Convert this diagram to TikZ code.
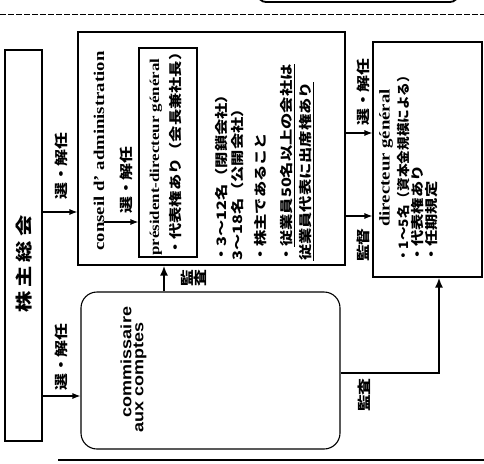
\documentclass[tikz,border=0pt]{standalone}
\usepackage{fontspec}
\setmainfont{Liberation Serif}
\newfontfamily\serifwide{Liberation Serif}[FakeStretch=1.25]
\newfontfamily\sanswide{Liberation Sans}[FakeStretch=1.2]
\newfontfamily\jp{Noto Sans CJK JP}[FakeStretch=1.25]
\newfontfamily\jpn{Noto Sans CJK JP}[FakeStretch=1.05]
\usetikzlibrary{arrows.meta}
\begin{document}
\begin{tikzpicture}[x=1pt,y=-1pt,
  box/.style={draw, line width=1.1pt, inner sep=0pt},
  arr/.style={-{Latex[length=8pt,width=6pt]}, line width=1.1pt},
  tarr/.style={-{Latex[length=10pt,width=8pt]}, line width=2.2pt},
  lab/.style={rotate=90, inner sep=0pt, font=\jp\bfseries\fontsize{13.5}{13.5}\selectfont},
  jline/.style={rotate=90, anchor=west, inner sep=0pt, font=\jp\bfseries\fontsize{13}{13}\selectfont},
  sertitle/.style={rotate=90, inner sep=0pt, font=\serifwide\bfseries\fontsize{15}{15}\selectfont},
  santitle/.style={rotate=90, inner sep=0pt, font=\sanswide\bfseries\fontsize{15}{15}\selectfont},
]
\clip (0,0) rectangle (484,463);
\fill[white] (0,0) rectangle (484,463);
% frame remnants
\draw[line width=1pt, dash pattern=on 6pt off 2pt] (0,14) -- (484,14);
\draw[line width=1.8pt, rounded corners=8pt] (258,-20) -- (258,2) -- (458,2) -- (458,-20);
\draw[line width=1.2pt] (58,460) -- (484,460);
\draw[line width=2.4pt] (330,460) -- (484,460);
% shareholders
\node[box, minimum width=37pt, minimum height=391pt] (sh) at (23.5,245.5) {};
\node[rotate=90, inner sep=0pt, font=\jp\bfseries\fontsize{17}{17}\selectfont] (shtext) at (23.5,264) {株\hspace{4pt}主\hspace{4pt}総\hspace{4pt}会};
% conseil
\node[box, minimum width=267pt, minimum height=233pt] (ca) at (211.5,148.5) {};
\node[sertitle] (catitle) at (99,151) {conseil d’ administration};
\node[box, minimum width=58pt, minimum height=209pt] (pdg) at (168,152.5) {};
\node[jline, font=\serifwide\bfseries\fontsize{13.5}{13.5}\selectfont] (pdg1) at (156,256) {président-directeur général};
\node[jline] (pdg2) at (176,256) {・代表権あり（会長兼社長）};
\node[jline] (l1) at (222,263) {・3～12名（閉鎖会社）};
\node[jline] (l2) at (238,261) {3～18名（公開会社）};
\node[jline] (l3) at (261,263) {・株主であること};
\node[jline] (l4) at (288,263) {・\underline{従業員50名以上の会社は}};
\node[jline] (l5) at (307,261) {\underline{従業員代表に出席権あり}};
% directeur general
\node[box, minimum width=109pt, minimum height=235pt] (dg) at (427.5,159.5) {};
\node[sertitle] (dgtitle) at (386,158) {directeur général};
\node[jline, font=\jpn\bfseries\fontsize{13}{13}\selectfont] (d1) at (404,263) {・1～5名（資本金規模による）};
\node[jline] (d2) at (418,263) {・代表権あり};
\node[jline] (d3) at (432,263) {・任期規定};
% commissaire
\node[box, rounded corners=16pt, minimum width=259pt, minimum height=157pt] (cac) at (210.5,370.5) {};
\node[santitle] (cac1) at (126,362) {commissaire};
\node[santitle] (cac2) at (140,377) {aux comptes};
% connectors
\coordinate (y1) at (0,212);
\draw[arr] (sh.east |- y1) -- (ca.west |- y1);
\node[lab] (lab1) at (61,166) {選・解任};
\coordinate (y2) at (0,396);
\draw[arr] (sh.east |- y2) -- (cac.west |- y2);
\node[lab] (lab2) at (61,357) {選・解任};
\coordinate (y3) at (0,222);
\draw[arr] (catitle.south |- y3) -- (pdg.west |- y3);
\node[lab] (lab3) at (126,180) {選・解任};
\coordinate (y4) at (0,133);
\draw[arr] (ca.east |- y4) -- (dg.west |- y4);
\node[lab] (lab4) at (363,92) {選・解任};
\coordinate (y5) at (0,216);
\draw[arr] (ca.east |- y5) -- (dg.west |- y5);
\node[lab] (lab5) at (363,245) {監督};
\coordinate (x6) at (164,0);
\draw[tarr] (cac.north -| x6) -- (ca.south -| x6);
\node[lab, align=center] (lab6) at (194,278) {監\\査};
\coordinate (k) at (439,373);
\draw[tarr] (cac.east |- k) -- (k) -- (dg.south -| k);
\node[lab] (lab7) at (364,395) {監査};
\end{tikzpicture}
\end{document}
